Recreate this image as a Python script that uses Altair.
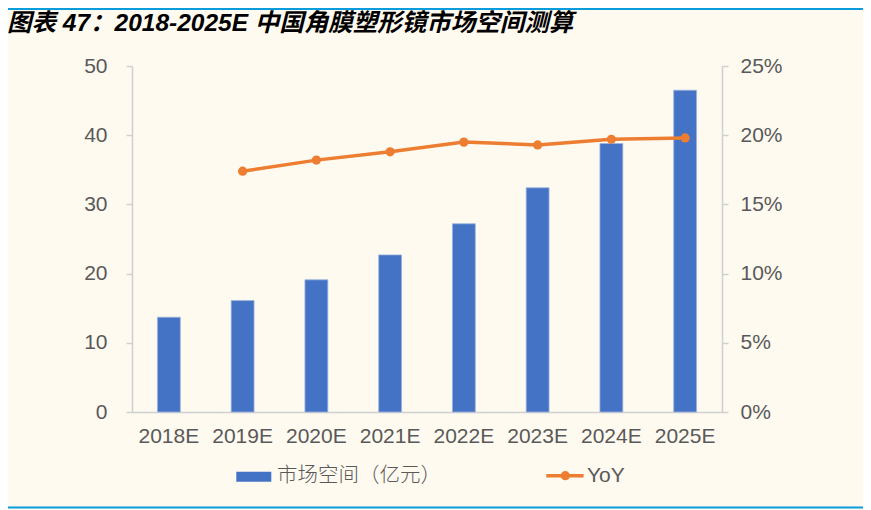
import altair as alt
import pandas as pd

years = ["2018E", "2019E", "2020E", "2021E", "2022E", "2023E", "2024E", "2025E"]
market = [13.7, 16.1, 19.1, 22.7, 27.2, 32.4, 38.8, 46.5]
yoy_years = ["2019E", "2020E", "2021E", "2022E", "2023E", "2024E", "2025E"]
yoy = [0.174, 0.182, 0.188, 0.195, 0.193, 0.197, 0.198]
left_ticks = [0, 10, 20, 30, 40, 50]
right_ticks = [0, 0.05, 0.10, 0.15, 0.20, 0.25]
title_text = "图表 47：2018-2025E 中国角膜塑形镜市场空间测算"
legend_bar = "市场空间（亿元）"
legend_line = "YoY"

BLUE = "#4472C4"
ORANGE = "#ED7D31"
LINE_BLUE = "#0B9CDB"
GRAY_TXT = "#595959"
AXIS_GRAY = "#D0D0D0"
BG = "#FEFAF0"
LATIN = "'Liberation Sans', Arial, 'Noto Sans CJK SC'"
CJK = "'Noto Sans CJK SC', 'Liberation Sans'"

bars_df = pd.DataFrame({"year": years, "market": market})
line_df = pd.DataFrame({"year": yoy_years, "yoy": yoy})
one = pd.DataFrame({"t": [0]})

xscale = alt.Scale(domain=years, paddingInner=0.69, paddingOuter=0.345)
xaxis = alt.Axis(
    title=None, labelAngle=0, ticks=False, domainColor=AXIS_GRAY, domainWidth=1.5,
    labelFontSize=21, labelFont=LATIN, labelColor=GRAY_TXT, labelPadding=13,
)

bars = alt.Chart(bars_df).mark_bar(
    color=BLUE, stroke="#9DB3E0", strokeWidth=0.8
).encode(
    x=alt.X("year:N", sort=years, scale=xscale, axis=xaxis),
    y=alt.Y(
        "market:Q",
        scale=alt.Scale(domain=[0, 50], nice=False),
        axis=alt.Axis(
            title=None, orient="left", values=left_ticks, grid=False,
            domainColor=AXIS_GRAY, domainWidth=1.5, tickColor=AXIS_GRAY, tickWidth=1.5,
            tickSize=6, labelFontSize=21, labelFont=LATIN, labelColor=GRAY_TXT,
            labelPadding=19,
        ),
    ),
)

line = alt.Chart(line_df).mark_line(
    color=ORANGE, strokeWidth=3.5,
    point=alt.OverlayMarkDef(color=ORANGE, filled=True, size=85, opacity=1),
).encode(
    x=alt.X("year:N", sort=years, scale=xscale, axis=xaxis),
    y=alt.Y(
        "yoy:Q",
        scale=alt.Scale(domain=[0, 0.25], nice=False),
        axis=alt.Axis(
            title=None, orient="right", values=right_ticks, format=".0%", grid=False,
            domainColor=AXIS_GRAY, domainWidth=1.5, tickColor=AXIS_GRAY, tickWidth=1.5,
            tickSize=6, labelFontSize=21, labelFont=LATIN, labelColor=GRAY_TXT,
            labelPadding=12,
        ),
    ),
)

# decorations: title, frame lines, legend
title = alt.Chart(one).mark_text(
    text=title_text, align="left", baseline="middle", fontSize=24.5,
    font=LATIN, fontStyle="italic", fontWeight="bold", color="#000000",
).encode(x=alt.value(-125), y=alt.value(-42))

top_rule = alt.Chart(one).mark_rule(color=LINE_BLUE, strokeWidth=2).encode(
    x=alt.value(-124), x2=alt.value(731), y=alt.value(-57)
)
bottom_rule = alt.Chart(one).mark_rule(color=LINE_BLUE, strokeWidth=2).encode(
    x=alt.value(-124), x2=alt.value(731), y=alt.value(441.5)
)

leg_rect = alt.Chart(one).mark_rect(color=BLUE).encode(
    x=alt.value(104.3), x2=alt.value(139.3), y=alt.value(405.7), y2=alt.value(415.7)
)
leg_text1 = alt.Chart(one).mark_text(
    text=legend_bar, align="left", baseline="middle", fontSize=20.5,
    font=CJK, fontWeight=300, color=GRAY_TXT,
).encode(x=alt.value(145), y=alt.value(409.7))
leg_rule = alt.Chart(one).mark_rule(color=ORANGE, strokeWidth=3.5).encode(
    x=alt.value(414.3), x2=alt.value(451.6), y=alt.value(409.7)
)
leg_pt = alt.Chart(one).mark_point(color=ORANGE, filled=True, size=85, opacity=1).encode(
    x=alt.value(433.3), y=alt.value(409.7)
)
leg_text2 = alt.Chart(one).mark_text(
    text=legend_line, align="left", baseline="middle", fontSize=21,
    font=LATIN, color=GRAY_TXT,
).encode(x=alt.value(455), y=alt.value(409.7))

chart = alt.layer(
    bars, line, title, top_rule, bottom_rule,
    leg_rect, leg_text1, leg_rule, leg_pt, leg_text2,
).resolve_scale(y="independent").properties(
    width=590, height=346,
    autosize=alt.AutoSizeParams(type="none"),
    padding={"left": 124, "top": 58, "right": 141, "bottom": 98},
    background=BG,
).configure_view(stroke=None)

chart.save("out.html", embed_options={"renderer": "svg", "actions": False})
